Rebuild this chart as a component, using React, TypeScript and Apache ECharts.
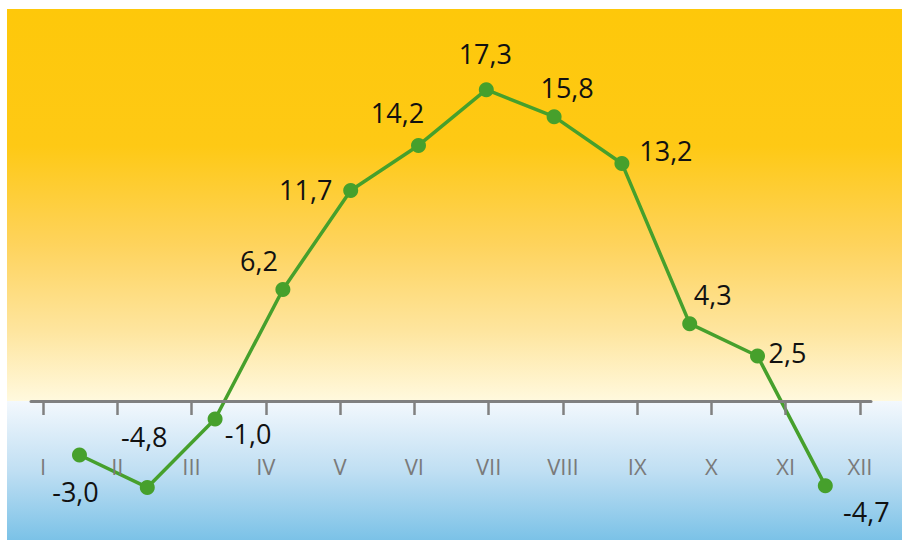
import React, { useEffect, useRef } from "react";
import * as echarts from "echarts";

const months = ["I", "II", "III", "IV", "V", "VI", "VII", "VIII", "IX", "X", "XI", "XII"];
const temperatures = [-3.0, -4.8, -1.0, 6.2, 11.7, 14.2, 17.3, 15.8, 13.2, 4.3, 2.5, -4.7];
// label offsets (dx, dy) from each point's centre
const labelOffsets = [
  [-4, 36], [-3, -51], [33, 14], [-24, -29], [-45, -1], [-21, -33],
  [-1, -36], [13, -29], [44, -13], [23, -29], [30, -4], [41, 26],
];

const Y_MIN = -7.72;
const Y_MAX = 21.78;

export default function App() {
  const ref = useRef<HTMLDivElement>(null);
  useEffect(() => {
    if (!ref.current) return;
    const chart = echarts.init(ref.current, undefined, { renderer: "svg" });
    const idx = months.map((_, i) => i);
    chart.setOption({
      animation: false,
      grid: [
        { left: 0, right: 0, top: 0, bottom: 0 },
        { left: 24, right: 31, top: 0, bottom: 139 },
      ],
      xAxis: [
        { type: "value", gridIndex: 0, min: -1.069, max: 12.131, show: false },
        {
          type: "value",
          gridIndex: 1,
          position: "bottom",
          min: -0.1616,
          max: 11.148,
          z: 10,
          splitLine: { show: false },
          axisLine: { show: true, onZero: false, lineStyle: { color: "#808080", width: 3 } },
          axisTick: { show: true, customValues: idx, length: 14, lineStyle: { color: "#808080", width: 2.5 } },
          axisLabel: {
            customValues: idx,
            formatter: (v: number) => months[Math.round(v)] ?? "",
            color: "#7a7a7a",
            fontSize: 22,
            fontFamily: "Open Sans",
            margin: 54,
          },
        },
      ],
      yAxis: [
        { type: "value", gridIndex: 0, min: Y_MIN, max: Y_MAX, show: false },
        { type: "value", gridIndex: 1, min: 0, max: Y_MAX, show: false },
      ],
      series: [
        {
          type: "line",
          xAxisIndex: 0,
          yAxisIndex: 0,
          z: 5,
          data: temperatures.map((t, i) => ({
            value: [i, t],
            label: { offset: labelOffsets[i] },
          })),
          symbol: "circle",
          symbolSize: 15,
          lineStyle: { color: "#46a02c", width: 3.5 },
          itemStyle: { color: "#46a02c" },
          label: {
            show: true,
            position: "inside",
            color: "#111",
            fontSize: 27,
            fontFamily: "Open Sans",
            formatter: (p: any) => p.value[1].toFixed(1).replace(".", ","),
          },
          markArea: {
            silent: true,
            z: 1,
            data: [
              [
                {
                  yAxis: 0,
                  itemStyle: {
                    color: {
                      type: "linear", x: 0, y: 0, x2: 0, y2: 1,
                      colorStops: [
                        { offset: 0, color: "#FEC80A" },
                        { offset: 0.35, color: "#FEC915" },
                        { offset: 0.6, color: "#FED35C" },
                        { offset: 0.82, color: "#FEE59E" },
                        { offset: 1, color: "#FFF9DE" },
                      ],
                    },
                  },
                },
                { yAxis: Y_MAX },
              ],
              [
                {
                  yAxis: Y_MIN,
                  itemStyle: {
                    color: {
                      type: "linear", x: 0, y: 0, x2: 0, y2: 1,
                      colorStops: [
                        { offset: 0, color: "#F3F8FD" },
                        { offset: 0.5, color: "#C0DFF3" },
                        { offset: 1, color: "#7BC2E7" },
                      ],
                    },
                  },
                },
                { yAxis: 0 },
              ],
            ],
          },
        },
      ],
    });
    return () => chart.dispose();
  }, []);
  return (
    <div
      ref={ref}
      style={{ position: "absolute", left: 7, top: 9, width: 895, height: 531 }}
    />
  );
}
